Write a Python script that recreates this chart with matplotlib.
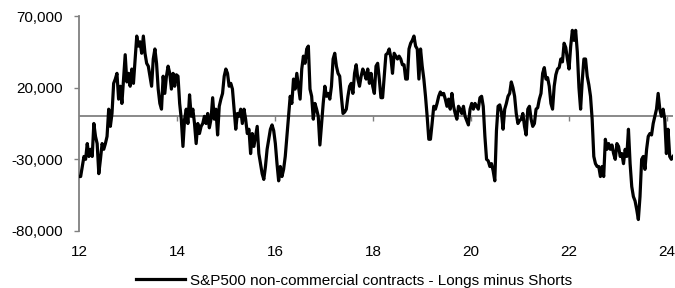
import numpy as np
import matplotlib
matplotlib.use('Agg')
import matplotlib.pyplot as plt
from matplotlib.ticker import FuncFormatter

# S&P500 net non-commercial positioning (thousands of contracts), weekly
net_k = [
    -42, -42, -35, -28, -30, -19, -28, -23, -28, -5, -14, -19, -40, -30, -19, -23, -19, -14, 5, -7,
    2, 23, 26, 30, 12, 21, 9, 26, 43, 24, 30, 21, 33, 23, 40, 56, 49, 52, 44, 56, 44, 37, 35, 28,
    21, 40, 47, 37, 19, 9, 5, 28, 16, 28, 35, 30, 19, 30, 21, 29, 28, 9, -2, -21,
    -2, 5, -5, 15, 0, 5, -5, -19, -5, -12, -7, -5, 0, -5, 2, -8, -2, 13, -2, 5, -13, 7, 12, 16, 28,
    33, 30, 21, 23, 19, 5, -9, 2, 0, 5, -5, 5, -2, -12, -9, -26, -12, -21, -14, -7,
    -26, -33, -40, -44, -35, -23, -16, -9, -6, -10, -19, -33, -45, -35, -42, -37, -28, -14, 0, 14,
    9, 26, 19, 30, 21,
    12, 33, 42, 37, 47, 49, 19, 14, -2, 9, 5, 0, -20, -5, 9, 21, 14, 16, 12, 21,
    40, 44, 35, 30, 28, 14, 2, 3, 5, 14, 21, 23, 16, 30, 36, 26, 21, 28, 33, 30, 26, 33, 23, 30, 21,
    16, 35, 37, 26, 13, 13, 28, 43, 44, 47, 41, 30, 44, 42, 40, 42, 40, 36, 36, 26,
    26, 47, 51, 53, 56, 49, 47, 26, 47, 35, 26, 14, 0, -16, -16, -5, 7, 5, 9, 14, 17, 15, 16, 12, 7,
    12, 5, 16, 7, 2, -2, 7, 5, 2, 7, 0, -3, -6, 5, 9, 5, 9, 7, 5, 13, 14, 7,
    -14, -30, -31, -35, -33, -38, -45, -10, 7, 8, 3, -9, 5, 9, 14, 16, 24, 20, 14, 2, -5, -3,
    -2, 2, -7, -13, 5, 7, -2, -7, -5, 5, 6, 12, 16, 30, 34, 26, 27, 21, 9, 5,
    21, 29, 33, 34, 40, 38, 51, 48, 40, 33, 49, 60, 53, 60, 45, 20, 5, 25, 40, 40, 28, 22, 14, -2, -28,
    -33, -35, -35, -42, -35, -42, -16, -23, -19, -23, -20, -26, -30, -19, -21, -28, -26, -33, -23, -28,
    -9, -33, -49, -56, -59, -65, -72, -56, -30, -28, -37, -23, -14, -12, -13, -5, 0, 5, 16, 5,
    0, 5, -2, -26, -9, -28, -30, -28,
]
first_year = 12.0
last_year = 24.12
year_ticks = [12, 14, 16, 18, 20, 22, 24]
value_ticks = [-80000, -30000, 20000, 70000]
series_label = 'S&P500 non-commercial contracts - Longs minus Shorts'

plt.rcParams['font.family'] = ['Liberation Sans', 'DejaVu Sans']
GRAY = '#808080'


def main():
    values = np.array(net_k) * 1000
    years = np.linspace(first_year, last_year, len(values))

    fig = plt.figure(figsize=(6.75, 2.88), dpi=100)
    ax = fig.add_axes([79 / 675, 57 / 288, 594 / 675, 215 / 288])

    # zero line acting as the category axis, with small tick marks
    ax.axhline(0, color=GRAY, lw=1.3, zorder=2)
    ax.plot(year_ticks[1:], [0] * (len(year_ticks) - 1), ls='none', marker=3,
            ms=3.5, mew=1, color=GRAY, zorder=2, clip_on=False)
    ax.plot(years, values, color='black', lw=2.3, label=series_label, zorder=3)

    ax.set_xlim(first_year, last_year)
    ax.set_ylim(value_ticks[0], value_ticks[-1])
    ax.set_yticks(value_ticks)
    ax.yaxis.set_major_formatter(FuncFormatter(lambda v, p: f'{v:,.0f}'))
    ax.set_xticks(year_ticks)
    ax.set_xticklabels([str(t) for t in year_ticks])

    for s in ['top', 'right', 'bottom']:
        ax.spines[s].set_visible(False)
    ax.spines['left'].set_color(GRAY)
    ax.spines['left'].set_linewidth(1.3)
    ax.tick_params(axis='y', direction='out', length=3.5, width=1, color=GRAY,
                   pad=8, labelsize=11)
    ax.tick_params(axis='x', length=0, pad=10, labelsize=11)

    fig.legend(loc='center', bbox_to_anchor=(0.525, 0.026), frameon=False,
               fontsize=11, handlelength=3.2, handletextpad=0.35)

    fig.savefig('out.png', dpi=100)


if __name__ == '__main__':
    main()
